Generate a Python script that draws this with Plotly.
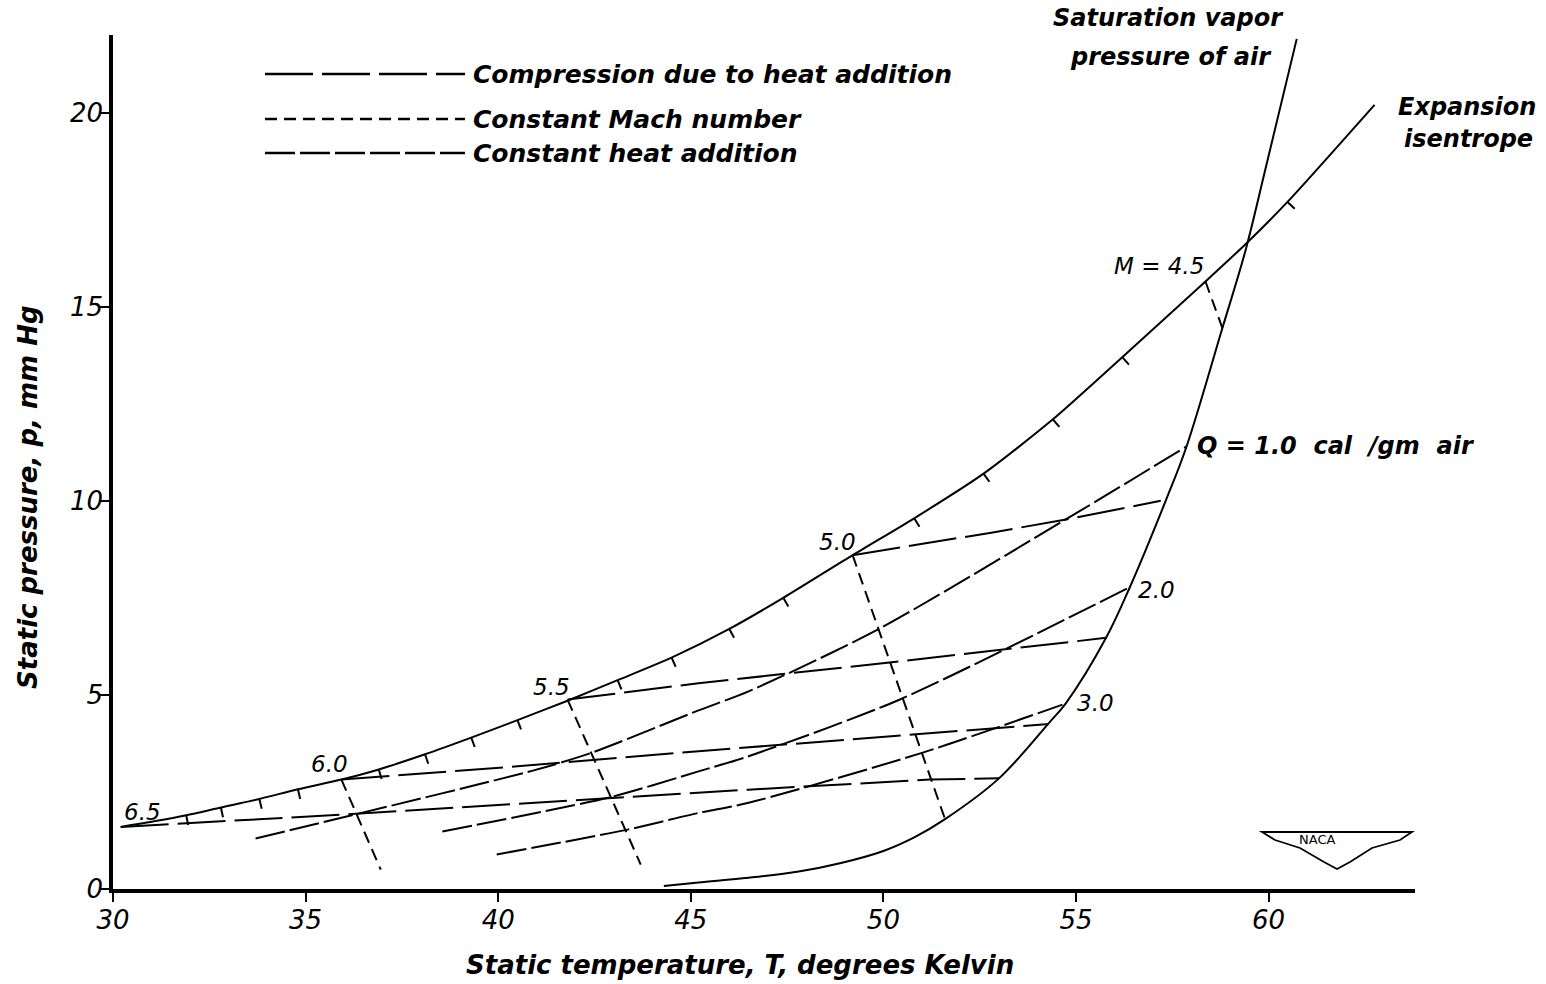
import numpy as np
import plotly.graph_objects as go

# ---------------- data ----------------
# Expansion isentrope
isen_T = [30.2, 31.1, 31.9, 32.8, 33.8, 34.8, 35.93, 36.9, 38.1, 39.3, 40.5, 41.8, 43.1,
          44.5, 46.0, 47.4, 49.2, 50.8, 52.6, 54.4, 56.2, 58.36, 59.44, 60.49, 62.75]
isen_p = [1.6, 1.75, 1.9, 2.1, 2.32, 2.57, 2.82, 3.08, 3.47, 3.9, 4.35, 4.85, 5.38,
          5.96, 6.7, 7.5, 8.6, 9.55, 10.7, 12.1, 13.7, 15.65, 16.65, 17.7, 20.2]

# Mach 0.1 tick marks on the isentrope
tick_T = [31.9, 32.8, 33.8, 34.8, 36.9, 38.1, 39.3, 40.5, 43.1, 44.5, 46.0, 47.4,
          50.8, 52.6, 54.4, 56.2, 60.49]
tick_p = [1.9, 2.1, 2.32, 2.57, 3.08, 3.47, 3.9, 4.35, 5.38, 5.96, 6.7, 7.5,
          9.55, 10.7, 12.1, 13.7, 17.7]

# Saturation vapor pressure of air
sat_T = [44.3, 45.2, 46.5, 47.8, 48.9, 50.0, 50.8, 51.6, 53.0, 54.3, 54.74, 55.78, 56.4,
         57.34, 57.87, 58.8, 59.4, 59.93, 60.73]
sat_p = [0.08, 0.17, 0.29, 0.45, 0.67, 0.98, 1.33, 1.8, 2.85, 4.28, 4.79, 6.47, 7.78,
         10.03, 11.4, 14.45, 16.45, 18.6, 21.9]

# Mach-number points on the isentrope (labels)
mach_labels = ["6.5", "6.0", "5.5", "5.0", "M = 4.5"]
mach_T = [30.2, 35.93, 41.8, 49.2, 58.36]
mach_p = [1.6, 2.82, 4.88, 8.6, 15.65]

# Constant Mach number lines
m60_T = [35.93, 36.95]; m60_p = [2.82, 0.5]
m55_T = [41.8, 43.7];   m55_p = [4.88, 0.63]
m50_T = [49.2, 51.6];   m50_p = [8.6, 1.8]
m45_T = [58.36, 58.8];  m45_p = [15.65, 14.45]

# Compression due to heat addition
c65_T = [30.2, 36.2, 46.5, 51.2, 53.0];   c65_p = [1.6, 1.93, 2.56, 2.82, 2.85]
c60_T = [35.93, 40.5, 45.2, 50.77, 54.3]; c60_p = [2.82, 3.16, 3.55, 3.97, 4.25]
c55_T = [41.8, 45.2, 50.1, 55.78];        c55_p = [4.88, 5.3, 5.83, 6.47]
c50_T = [49.2, 52.8, 54.7, 57.2];         c50_p = [8.6, 9.18, 9.51, 10.0]

# Constant heat addition
q1_T = [33.7, 36.2, 40.9, 42.4, 45.2, 46.5, 49.85, 54.7, 57.87]
q1_p = [1.3, 1.9, 3.05, 3.5, 4.6, 5.09, 6.68, 9.5, 11.4]
q2_T = [38.55, 42.97, 45.2, 46.5, 50.4, 56.4]
q2_p = [1.48, 2.38, 3.03, 3.42, 4.87, 7.78]
q3_T = [39.96, 43.36, 45.2, 46.5, 50.98, 54.65]
q3_p = [0.89, 1.53, 1.96, 2.22, 3.5, 4.75]
q_labels = ["Q = 1.0\u00a0 cal\u00a0 /gm\u00a0 air", "2.0", "3.0"]

x_ticks = [30, 35, 40, 45, 50, 55, 60]
y_ticks = [0, 5, 10, 15, 20]

legend_labels = ["Compression due to heat addition", "Constant Mach number", "Constant heat addition"]

# ---------------- styling ----------------
FONT = "DejaVu Sans"
BLACK = "black"
DASH_COMP = "48px,9px"
DASH_MACH = "12px,7px"
DASH_Q = "30px,5px"
X0, X1 = 30, 63.8
Y0, Y1 = 0, 22
ML, MR, MT, MB = 113, 131, 35, 95
W, H = 1546, 984
PW, PH = W - ML - MR, H - MT - MB
SX, SY = PW / (X1 - X0), PH / (Y1 - Y0)

fig = go.Figure()

def add_line(T, p, dash="solid", width=2.0, shape="linear", smoothing=0.7):
    fig.add_trace(go.Scatter(x=T, y=p, mode="lines", showlegend=False, hoverinfo="skip",
                             line=dict(color=BLACK, width=width, dash=dash, shape=shape,
                                       smoothing=smoothing)))

add_line(sat_T, sat_p, shape="spline", smoothing=1.0)
add_line(isen_T, isen_p, shape="spline")
for T, p in [(c65_T, c65_p), (c60_T, c60_p), (c55_T, c55_p), (c50_T, c50_p)]:
    add_line(T, p, dash=DASH_COMP, width=2.0)
for T, p in [(q1_T, q1_p), (q2_T, q2_p), (q3_T, q3_p)]:
    add_line(T, p, dash=DASH_Q, width=2.0, shape="spline")
for T, p in [(m60_T, m60_p), (m55_T, m55_p), (m50_T, m50_p), (m45_T, m45_p)]:
    add_line(T, p, dash=DASH_MACH, width=2.0)

# tick marks hanging below the isentrope, perpendicular to it
iT = np.array(isen_T); ip = np.array(isen_p)
slope = np.gradient(ip, iT)
tx, ty = [], []
TICK_PX = 10
for t, p in zip(tick_T, tick_p):
    s = slope[np.argmin(np.abs(iT - t))]
    th = np.arctan2(s * SY, SX)
    tx += [t, t + TICK_PX * np.sin(th) / SX, None]
    ty += [p, p - TICK_PX * np.cos(th) / SY, None]
fig.add_trace(go.Scatter(x=tx, y=ty, mode="lines", showlegend=False, hoverinfo="skip",
                         line=dict(color=BLACK, width=2.0)))

# ---------------- annotations ----------------
def px2paper(x, y):
    return (x - ML) / PW, (H - MB - y) / PH

ann = []
num_font = dict(family=FONT, size=23, color=BLACK, style="italic")
word_font = dict(family=FONT, size=24, color=BLACK, style="italic", weight="bold")
shifts = [(22, 15), (-12, 16), (-16, 13), (-15, 13), (-46, 16)]
for lab, T, p, (dx, dy) in zip(mach_labels, mach_T, mach_p, shifts):
    ann.append(dict(x=T, y=p, xref="x", yref="y", text=lab, showarrow=False,
                    xshift=dx, yshift=dy, font=num_font))
q_ends = [(q1_T[-1], q1_p[-1], 8, 0), (q2_T[-1], q2_p[-1], 6, -3), (q3_T[-1], q3_p[-1], 12, 2)]
for i, (lab, (T, p, dx, dy)) in enumerate(zip(q_labels, q_ends)):
    ann.append(dict(x=T, y=p, xref="x", yref="y", text=lab, showarrow=False, xanchor="left",
                    xshift=dx, yshift=dy, font=word_font if i == 0 else num_font))

for txt, (px, py) in [("Saturation vapor", (1168, 18)), ("pressure of air", (1171, 57)),
                      ("Expansion", (1467, 107)), ("isentrope", (1468, 139))]:
    x, y = px2paper(px, py)
    ann.append(dict(x=x, y=y, xref="paper", yref="paper", text=txt, showarrow=False,
                    font=word_font, xanchor="center", yanchor="middle"))

# axis titles
title_font = dict(family=FONT, size=26, color=BLACK, style="italic", weight="bold")
x, y = px2paper(740, 965)
ann.append(dict(x=x, y=y, xref="paper", yref="paper", text="Static temperature, T, degrees Kelvin",
                showarrow=False, font=title_font, xanchor="center", yanchor="middle"))
x, y = px2paper(28, 497)
ann.append(dict(x=x, y=y, xref="paper", yref="paper", text="Static pressure, p, mm Hg",
                showarrow=False, textangle=-90, font=title_font, xanchor="center", yanchor="middle"))

# manual legend
shapes = []
leg_rows = [(74, DASH_COMP), (119, DASH_MACH), (153, DASH_Q)]
for lab, (py, dash) in zip(legend_labels, leg_rows):
    xa, ya = px2paper(265, py)
    xb, _ = px2paper(465, py)
    shapes.append(dict(type="line", xref="paper", yref="paper", x0=xa, x1=xb, y0=ya, y1=ya,
                       line=dict(color=BLACK, width=2.4, dash=dash)))
    xt, _ = px2paper(471, py)
    ann.append(dict(x=xt, y=ya, xref="paper", yref="paper", text=lab, showarrow=False,
                    xanchor="left", yanchor="middle",
                    font=dict(family=FONT, size=25, color=BLACK, style="italic", weight="bold")))

# NACA wing emblem
pts = [(1262, 832), (1412, 832), (1400, 840), (1372, 848), (1350, 862), (1337, 869),
       (1324, 862), (1300, 848), (1275, 840), (1262, 832)]
path = ""
for i, (px, py) in enumerate(pts):
    x, y = px2paper(px, py)
    path += ("M" if i == 0 else "L") + f"{x:.5f},{y:.5f} "
path += "Z"
shapes.append(dict(type="path", xref="paper", yref="paper", path=path,
                   line=dict(color=BLACK, width=1.8), fillcolor="white"))
x, y = px2paper(1337, 849)
ann.append(dict(x=x, y=y, xref="paper", yref="paper", text="NACA", showarrow=False,
                font=dict(family=FONT, size=13, color=BLACK)))

axis_common = dict(showgrid=False, zeroline=False, showline=True, linecolor=BLACK, linewidth=3.5,
                   ticks="outside", tickcolor=BLACK, tickwidth=2,
                   tickfont=dict(family=FONT, size=26, color=BLACK, style="italic"))
fig.update_layout(
    width=W, height=H, autosize=False,
    margin=dict(l=ML, r=MR, t=MT, b=MB, pad=0),
    paper_bgcolor="white", plot_bgcolor="white",
    xaxis=dict(range=[X0, X1], tickmode="array", tickvals=x_ticks, ticklen=9,
               ticklabelstandoff=-4, **axis_common),
    yaxis=dict(range=[Y0, Y1], tickmode="array", tickvals=y_ticks, ticklen=9,
               ticklabelstandoff=-8, **axis_common),
    annotations=ann, shapes=shapes, showlegend=False,
)

fig.write_html("out.html")
